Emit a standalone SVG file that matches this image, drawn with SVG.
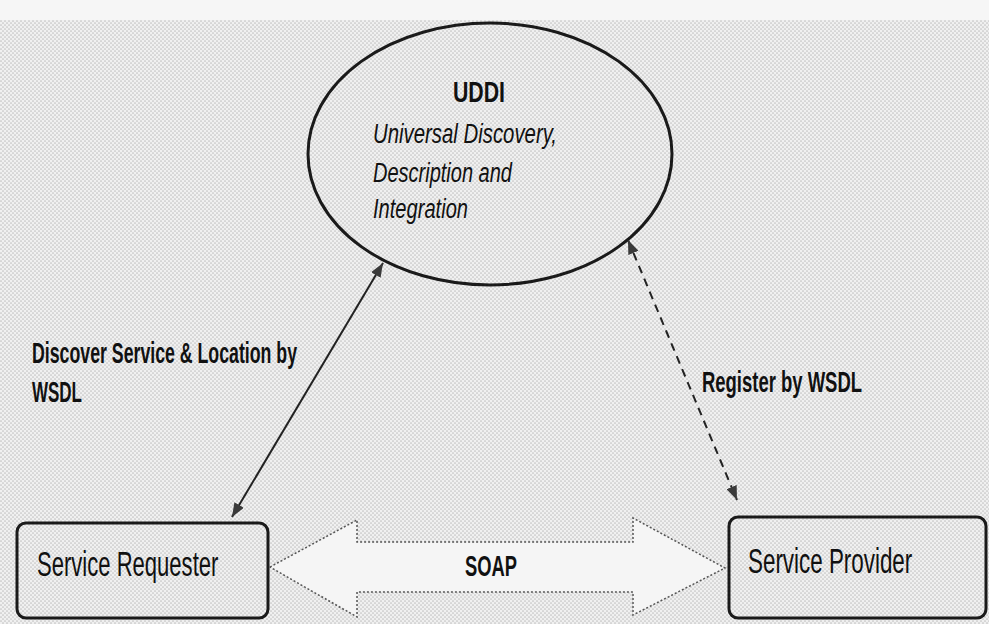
<svg xmlns="http://www.w3.org/2000/svg" width="989" height="624" viewBox="0 0 989 624">
  <defs>
    <!-- halftone-style paper texture -->
    <pattern id="dots" width="4" height="4" patternUnits="userSpaceOnUse">
      <rect width="4" height="4" fill="#f0f0f0"/>
      <circle cx="1" cy="1" r="0.85" fill="#c2c2c2"/>
      <circle cx="3" cy="3" r="0.85" fill="#c2c2c2"/>
    </pattern>
    <marker id="head" viewBox="0 0 14 11" refX="14" refY="5.5" markerWidth="14" markerHeight="11" markerUnits="userSpaceOnUse" orient="auto-start-reverse">
      <path d="M0,0 L14,5.5 L0,11 z" fill="#3a3a3a"/>
    </marker>
    <style>
      .node { fill: none; stroke: #1a1a1a; stroke-width: 3; }
      .lbl { font-family: "Liberation Sans", Arial, sans-serif; font-weight: bold; font-size: 29px; fill: #111; }
      .box-text { font-family: "Liberation Sans", Arial, sans-serif; font-size: 35px; fill: #111; }
      .desc { font-family: "Liberation Sans", Arial, sans-serif; font-style: italic; font-size: 27px; fill: #111; }
      .link { stroke: #222; stroke-width: 2; fill: none; }
    </style>
  </defs>

  <rect width="989" height="624" fill="url(#dots)"/>
  <rect width="989" height="20" fill="#f6f6f6"/>

  <!-- UDDI registry -->
  <g id="uddi">
    <ellipse class="node" cx="490" cy="154" rx="182" ry="131" stroke-width="2.2"/>
    <text class="lbl" x="479" y="102" text-anchor="middle" textLength="52" lengthAdjust="spacingAndGlyphs">UDDI</text>
    <text class="desc" x="373" y="143" textLength="184" lengthAdjust="spacingAndGlyphs">Universal Discovery,</text>
    <text class="desc" x="373" y="182" textLength="139" lengthAdjust="spacingAndGlyphs">Description and</text>
    <text class="desc" x="373" y="218" textLength="95" lengthAdjust="spacingAndGlyphs">Integration</text>
  </g>

  <!-- Service requester -->
  <g id="requester">
    <rect class="node" x="17" y="523" width="251" height="95" rx="9"/>
    <text class="box-text" transform="translate(37,576) scale(0.63,1)">Service Requester</text>
  </g>

  <!-- Service provider -->
  <g id="provider">
    <rect class="node" x="729" y="517" width="257" height="101" rx="9"/>
    <text class="box-text" transform="translate(748,573) scale(0.64,1)">Service Provider</text>
  </g>

  <g id="connectors">
    <!-- discovery link -->
    <line class="link" x1="383" y1="263" x2="232" y2="517" marker-start="url(#head)" marker-end="url(#head)"/>
    <!-- registration link -->
    <line class="link" x1="628" y1="240" x2="737" y2="500" stroke-dasharray="8,6" marker-start="url(#head)" marker-end="url(#head)"/>
    <!-- SOAP messaging: double-headed block arrow -->
    <polygon points="270,567 357,520 357,542 633,542 633,518 725,568 633,615 633,592 357,592 357,617"
             fill="#f5f5f5" stroke="#555" stroke-width="1.5" stroke-dasharray="2,2"/>
    <text class="lbl" x="491" y="576" text-anchor="middle" textLength="52" lengthAdjust="spacingAndGlyphs">SOAP</text>
    <text class="lbl" x="32" y="363" textLength="265" lengthAdjust="spacingAndGlyphs">Discover Service &amp; Location by</text>
    <text class="lbl" x="32" y="402" textLength="50" lengthAdjust="spacingAndGlyphs">WSDL</text>
    <text class="lbl" x="702" y="392" textLength="160" lengthAdjust="spacingAndGlyphs">Register by WSDL</text>
  </g>
</svg>
